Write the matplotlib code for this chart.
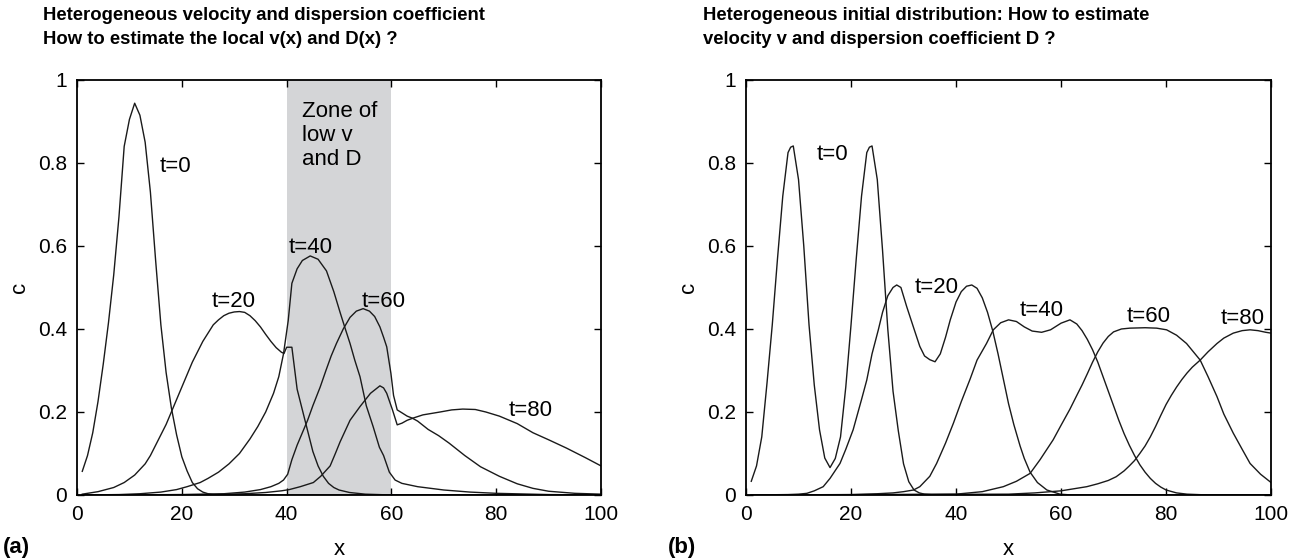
"""
Advection-dispersion profiles c(x) at successive times, two scenarios.
"""

import matplotlib.pyplot as plt

plt.rcParams["font.family"] = ["Liberation Sans", "DejaVu Sans"]

# --- Data: panel (a), heterogeneous v and D -----------------------------------
a_x_t0 = [1, 2, 3, 4, 5, 6, 7, 8, 9, 10, 11, 12, 13, 14, 15, 16, 17, 18, 19, 20,
          21, 22, 23, 24, 25, 26, 28, 100]
a_c_t0 = [0.057, 0.095, 0.15, 0.225, 0.315, 0.415, 0.53, 0.67, 0.84, 0.905, 0.944,
          0.915, 0.85, 0.73, 0.565, 0.41, 0.295, 0.21, 0.145, 0.092, 0.058, 0.03,
          0.015, 0.007, 0.003, 0.001, 0.0, 0.0]

a_x_t20 = [1, 4, 7, 9, 11, 13, 14, 15, 16, 17, 18, 19, 20, 21, 22, 23, 24, 25, 26,
           27, 28, 29, 30, 31, 32, 33, 34, 35, 36, 37, 38, 39, 39.5, 40, 41, 42, 43,
           44, 45, 46, 47, 48, 49, 50, 52, 55, 60, 100]
a_c_t20 = [0.002, 0.008, 0.018, 0.03, 0.048, 0.075, 0.095, 0.12, 0.145, 0.17, 0.2,
           0.23, 0.26, 0.29, 0.32, 0.345, 0.37, 0.39, 0.41, 0.422, 0.432, 0.438,
           0.441, 0.442, 0.44, 0.432, 0.42, 0.405, 0.387, 0.37, 0.355, 0.344, 0.341,
           0.356, 0.356, 0.255, 0.205, 0.155, 0.105, 0.07, 0.045, 0.028, 0.018,
           0.012, 0.006, 0.002, 0.0, 0.0]

a_x_t40 = [1, 8, 12, 16, 19, 21, 23.5, 25, 27, 29, 31, 33, 34.5, 36, 37.5, 38.5,
           39.4, 40.3, 41, 42, 43, 44.5, 46, 47.6, 49, 50.2, 51.2, 52.1, 53, 54,
           55.2, 56.5, 57.7, 58.5, 59.6, 60.7, 62, 65, 70, 75, 80, 90, 100]
a_c_t40 = [0.0, 0.001, 0.003, 0.007, 0.013, 0.02, 0.03, 0.04, 0.055, 0.075, 0.1,
           0.135, 0.165, 0.2, 0.245, 0.285, 0.34, 0.42, 0.51, 0.545, 0.565, 0.576,
           0.568, 0.54, 0.49, 0.44, 0.4, 0.365, 0.325, 0.285, 0.215, 0.165, 0.115,
           0.095, 0.055, 0.036, 0.028, 0.02, 0.012, 0.007, 0.004, 0.001, 0.0]

a_x_t60 = [1, 20, 28, 32, 35, 37, 38.5, 39.4, 40.2, 41, 42, 43, 44, 45, 46.4, 47.5,
           48.5, 49.5, 50.8, 52.1, 53.3, 54.6, 55.8, 56.8, 57.8, 58.5, 59.1, 59.9,
           60.4, 61.1, 62, 63, 64, 65, 67, 69, 71, 74, 77, 80.6, 84, 87, 90, 95, 100]
a_c_t60 = [0.0, 0.001, 0.003, 0.007, 0.013, 0.02, 0.028, 0.036, 0.05, 0.085, 0.12,
           0.15, 0.18, 0.215, 0.26, 0.3, 0.335, 0.365, 0.4, 0.428, 0.443, 0.449,
           0.443, 0.43, 0.405, 0.38, 0.357, 0.293, 0.24, 0.205, 0.198, 0.19, 0.185,
           0.178, 0.158, 0.143, 0.125, 0.095, 0.068, 0.045, 0.027, 0.016, 0.009,
           0.004, 0.002]

a_x_t80 = [1, 25, 32, 36, 39, 40.5, 42.6, 45.1, 46.5, 48.3, 49.3, 50.2, 52.1, 54,
           56, 57.8, 58.5, 59.1, 60.2, 61.1, 62, 63, 64.3, 66, 69.3, 71.5, 73.6, 76,
           78, 80.6, 84, 87, 90, 93.4, 97, 100]
a_c_t80 = [0.0, 0.001, 0.003, 0.006, 0.01, 0.013, 0.02, 0.03, 0.045, 0.07, 0.1,
           0.128, 0.18, 0.213, 0.245, 0.263, 0.258, 0.245, 0.205, 0.169, 0.173,
           0.18, 0.186, 0.193, 0.2, 0.205, 0.207, 0.206, 0.2, 0.19, 0.172, 0.15,
           0.133, 0.113, 0.09, 0.07]

zone_x = [40, 60]

# --- Data: panel (b), heterogeneous initial distribution ----------------------
b_x_t0 = [1, 2, 3, 4, 5, 6, 7, 8, 8.5, 9, 10, 11, 12, 13, 14, 15, 16, 17, 18, 19,
          20, 21, 22, 23, 23.5, 24, 25, 26, 27, 28, 29, 30, 31, 32, 33, 34, 36, 100]
b_c_t0 = [0.033, 0.07, 0.14, 0.27, 0.41, 0.57, 0.72, 0.825, 0.838, 0.841, 0.76,
          0.6, 0.41, 0.265, 0.157, 0.089, 0.066, 0.088, 0.14, 0.26, 0.41, 0.57,
          0.72, 0.825, 0.838, 0.841, 0.76, 0.59, 0.4, 0.25, 0.155, 0.075, 0.032,
          0.012, 0.005, 0.002, 0.0, 0.0]

b_x_t20 = [1, 8, 10, 11.6, 13, 14.7, 16, 17.9, 19, 20.4, 22, 23, 24, 25.2, 26, 27,
           28, 28.7, 29.5, 30.6, 32, 33.1, 34, 35, 36, 37, 38, 38.9, 40, 41, 42, 43,
           44, 45, 46, 47, 48, 49, 50, 51, 52.2, 53, 54.1, 55.5, 57.3, 59.8, 62,
           100]
b_c_t20 = [0.0, 0.001, 0.002, 0.004, 0.01, 0.02, 0.04, 0.076, 0.11, 0.157, 0.23,
           0.277, 0.34, 0.398, 0.44, 0.48, 0.5, 0.506, 0.5, 0.454, 0.4, 0.358,
           0.335, 0.326, 0.321, 0.34, 0.38, 0.422, 0.465, 0.49, 0.503, 0.506, 0.498,
           0.475, 0.44, 0.395, 0.34, 0.28, 0.22, 0.17, 0.118, 0.088, 0.055, 0.03,
           0.012, 0.002, 0.0, 0.0]

b_x_t40 = [1, 20, 25, 28, 30, 31.9, 33.1, 35, 36.3, 38, 39.5, 41, 42.7, 44, 45.8,
           47.1, 48.5, 50, 51.5, 53, 54.5, 56.3, 58, 60, 61.7, 63, 64, 65, 66, 67,
           68, 69, 70, 71, 72, 73, 74, 75, 76, 77, 78, 79, 80, 82, 84, 88, 100]
b_c_t40 = [0.0, 0.001, 0.003, 0.005, 0.008, 0.012, 0.02, 0.045, 0.076, 0.125,
           0.173, 0.225, 0.28, 0.325, 0.365, 0.398, 0.415, 0.422, 0.418, 0.405,
           0.395, 0.392, 0.398, 0.414, 0.422, 0.412, 0.396, 0.375, 0.35, 0.32,
           0.285, 0.25, 0.215, 0.18, 0.148, 0.12, 0.095, 0.073, 0.055, 0.04, 0.028,
           0.019, 0.012, 0.005, 0.002, 0.0, 0.0]

b_x_t60 = [1, 30, 40, 45, 49, 51.5, 54.1, 56, 58.5, 60, 61.7, 63, 64, 65, 66, 67,
           68, 69, 70, 71.5, 73.1, 76, 78.2, 80.1, 82, 83.9, 86.5, 88, 89.7, 91,
           92.8, 94.5, 96, 98, 100]
b_c_t60 = [0.0, 0.001, 0.002, 0.008, 0.02, 0.033, 0.052, 0.085, 0.133, 0.168,
           0.207, 0.24, 0.265, 0.292, 0.32, 0.345, 0.366, 0.382, 0.393, 0.4, 0.402,
           0.403, 0.402, 0.398, 0.385, 0.365, 0.325, 0.285, 0.237, 0.195, 0.149,
           0.11, 0.076, 0.05, 0.03]

b_x_t80 = [1, 50, 55, 60, 64.9, 67, 69, 70.5, 72, 73, 74, 75, 76, 77, 78, 79, 80,
           81, 82, 83, 84, 85, 86.5, 88, 89.7, 91, 92.8, 94.5, 96, 97.5, 99, 100]
b_c_t80 = [0.0, 0.002, 0.005, 0.01, 0.02, 0.027, 0.035, 0.044, 0.058, 0.07, 0.083,
           0.1, 0.118, 0.14, 0.165, 0.192, 0.218, 0.24, 0.26, 0.278, 0.294, 0.308,
           0.325, 0.345, 0.365, 0.378, 0.39, 0.396, 0.398, 0.396, 0.392, 0.39]

# Curve labels: (text, x, c) in data coordinates, baseline-aligned
a_labels = [("t=0", 15.7, 0.779), ("t=20", 25.7, 0.454), ("t=40", 40.3, 0.584),
            ("t=60", 54.3, 0.452), ("t=80", 82.3, 0.19)]
b_labels = [("t=0", 13.5, 0.806), ("t=20", 32.2, 0.486), ("t=40", 52.2, 0.432),
            ("t=60", 72.5, 0.416), ("t=80", 90.3, 0.411)]

x_ticks = [0, 20, 40, 60, 80, 100]
y_ticks = [0, 0.2, 0.4, 0.6, 0.8, 1]
y_ticklabels = ["0", "0.2", "0.4", "0.6", "0.8", "1"]

LINE = "#1a1a1a"
TICK_FS = 15
TEXT_FS = 16


def style_axes(ax):
    ax.set_xlim(0, 100)
    ax.set_ylim(0, 1)
    ax.set_xticks(x_ticks)
    ax.set_yticks(y_ticks)
    ax.set_yticklabels(y_ticklabels)
    ax.tick_params(direction="in", top=True, right=True, length=5, width=1,
                   labelsize=TICK_FS, pad=7)
    for s in ax.spines.values():
        s.set_linewidth(1.3)
    ax.set_xlabel("x", fontsize=TEXT_FS, labelpad=11)
    ax.set_ylabel("c", fontsize=TEXT_FS, labelpad=6)


fig = plt.figure(figsize=(12.99, 5.6), dpi=100)
ax_a = fig.add_axes([0.0593, 0.1161, 0.4034, 0.7411])
ax_b = fig.add_axes([0.5743, 0.1161, 0.4042, 0.7411])

# --- Panel (a) -----------------------------------------------------------------
ax_a.axvspan(zone_x[0], zone_x[1], color="#d4d5d7", lw=0, zorder=0)
for xs, cs in [(a_x_t0, a_c_t0), (a_x_t20, a_c_t20), (a_x_t40, a_c_t40),
               (a_x_t60, a_c_t60), (a_x_t80, a_c_t80)]:
    ax_a.plot(xs, cs, color=LINE, lw=1.0)
for txt, x, y in a_labels:
    ax_a.text(x, y, txt, fontsize=TEXT_FS, ha="left", va="baseline")
ax_a.text(42.9, 0.95, "Zone of\nlow v\nand D", fontsize=TEXT_FS, ha="left",
          va="top", linespacing=1.2)
style_axes(ax_a)

# --- Panel (b) -----------------------------------------------------------------
for xs, cs in [(b_x_t0, b_c_t0), (b_x_t20, b_c_t20), (b_x_t40, b_c_t40),
               (b_x_t60, b_c_t60), (b_x_t80, b_c_t80)]:
    ax_b.plot(xs, cs, color=LINE, lw=1.0)
for txt, x, y in b_labels:
    ax_b.text(x, y, txt, fontsize=TEXT_FS, ha="left", va="baseline")
style_axes(ax_b)

# --- Titles and panel tags ----------------------------------------------------
fig.text(0.033, 0.988, "Heterogeneous velocity and dispersion coefficient\n"
         "How to estimate the local v(x) and D(x) ?", fontsize=13.3,
         fontweight="bold", ha="left", va="top", linespacing=1.55)
fig.text(0.541, 0.988, "Heterogeneous initial distribution: How to estimate\n"
         "velocity v and dispersion coefficient D ?", fontsize=13.3,
         fontweight="bold", ha="left", va="top", linespacing=1.55)
fig.text(0.002, 0.004, "(a)", fontsize=TEXT_FS, fontweight="bold", ha="left",
         va="bottom")
fig.text(0.514, 0.004, "(b)", fontsize=TEXT_FS, fontweight="bold", ha="left",
         va="bottom")

fig.savefig("out.png", dpi=100)
plt.close(fig)
